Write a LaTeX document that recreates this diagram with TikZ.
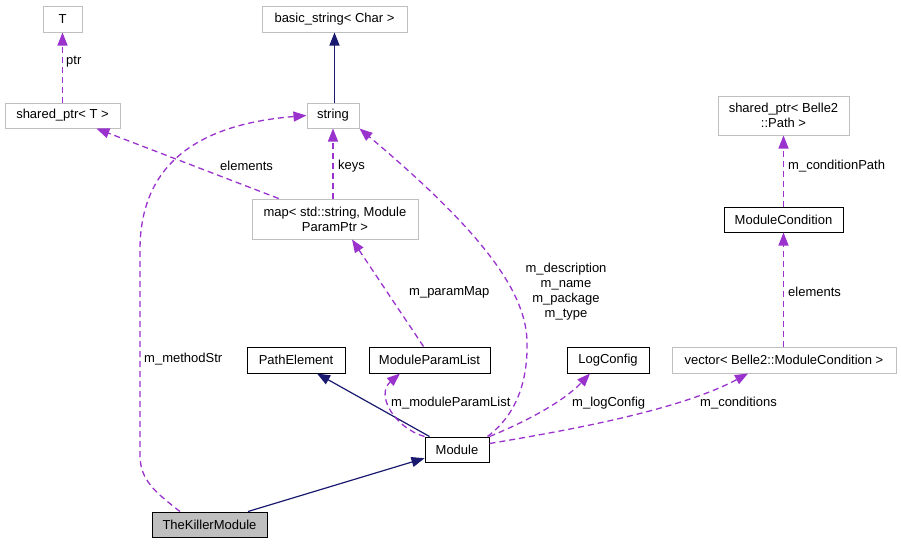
\documentclass[tikz,border=0pt]{standalone}
\usepackage{fontspec}
\setmainfont{Liberation Sans}
\usetikzlibrary{arrows.meta,positioning}
\definecolor{edgepurple}{HTML}{9A32CD}
\definecolor{edgeblue}{HTML}{191970}
\definecolor{boxgray}{HTML}{BFBFBF}
\tikzset{
  cls/.style={draw=black,line width=1pt,inner sep=0pt,minimum height=25pt,
    font=\fontsize{13}{15}\selectfont},
  ext/.style={cls,draw=boxgray},
  self/.style={cls,fill=boxgray},
  lbl/.style={inner sep=0pt,anchor=west,font=\fontsize{13}{15}\selectfont},
  inherit/.style={draw=edgeblue,line width=1.2pt,-{Triangle[length=13pt,width=10pt]}},
  usage/.style={draw=edgepurple,line width=1.3pt,dash pattern=on 6pt off 4pt,
    -{Triangle[length=13pt,width=10pt]}},
}
\begin{document}
\begin{tikzpicture}[x=1pt,y=-1pt]
            \useasboundingbox (0,0) rectangle (901,544);
            % Classes
            \node[ext,minimum width=39pt,minimum height=26pt] (T) at (62.5,19) {T};
            \node[ext,minimum width=145pt,minimum height=26pt] (basic) at (334.5,19) {basic\_string< Char >};
            \node[ext,minimum width=115pt] (sptrT) at (62.5,115.5) {shared\_ptr< T >};
            \node[ext,minimum width=52pt] (string) at (333,115.5) {string};
            \node[ext,align=center,minimum width=166pt,minimum height=40pt] (map) at (335,219) {map< std::string, Module\\ParamPtr >};
            \node[ext,align=center,minimum width=131pt,minimum height=39pt] (sptrB) at (783.5,115.5) {shared\_ptr< Belle2\\::Path >};
            \node[cls,minimum width=119pt] (cond) at (783.5,219.5) {ModuleCondition};
            \node[cls,minimum width=98pt,minimum height=26pt] (path) at (296,360) {PathElement};
            \node[cls,minimum width=121pt,minimum height=26pt] (plist) at (429.5,360) {ModuleParamList};
            \node[cls,minimum width=82pt,minimum height=26pt] (log) at (608,360) {LogConfig};
            \node[ext,minimum width=224pt,minimum height=26pt] (vec) at (784,360) {vector< Belle2::ModuleCondition >};
            \node[cls,minimum width=64pt] (module) at (457,449.5) {Module};
            \node[self,minimum width=115pt] (killer) at (209.5,524.5) {TheKillerModule};
            % Inheritance
            \draw[inherit] (string.north -| basic.south) -- (basic.south);
            \draw[inherit] ([xshift=5pt]module.north west) -- ([xshift=21pt]path.south);
            \draw[inherit] ([xshift=38.5pt]killer.north) -- (module.195);
            % Members
            \draw[usage] (sptrT.north) -- (T.south);
            \node[lbl] (lptr) at (66,62) {ptr};
            \draw[usage] (map.160) -- (sptrT.-21);
            \node[lbl] (lelem) at (220,166) {elements};
            \draw[usage] (map.north -| string.south) -- (string.south);
            \node[lbl] (lkeys) at (338,166) {keys};
            \draw[usage] ([xshift=-29.5pt]killer.north) .. controls (155,492) and (140,480) .. (140,455)
                -- (140,250) .. controls (140,170) and (190,125) .. (string.west);
            \node[lbl] (lmeth) at (144,359) {m\_methodStr};
            \draw[usage] ([xshift=-6pt]plist.north) -- ([xshift=17pt]map.south);
            \node[lbl] (lpmap) at (409,292) {m\_paramMap};
            \draw[usage] ([xshift=-2pt]module.north east) .. controls (520,412) and (528,375) .. (527,340)
                .. controls (525,290) and (480,230) .. (string.south east);
            \node[lbl,anchor=center,align=center] (ldesc) at (566,292) {m\_description\\m\_name\\m\_package\\m\_type};
            \draw[usage] (module.north west) .. controls (395,428) and (375,395) .. ([xshift=-29.5pt]plist.south);
            \node[lbl] (lplist) at (391,403) {m\_moduleParamList};
            \draw[usage] (module.north east) .. controls (530,420) and (565,400) .. ([xshift=-18pt]log.south);
            \node[lbl] (llog) at (572,403) {m\_logConfig};
            \draw[usage] ([yshift=6pt]module.east) .. controls (570,430) and (680,410) .. ([xshift=-36pt]vec.south);
            \node[lbl] (lcond) at (700,403) {m\_conditions};
            \draw[usage] (vec.north -| cond.south) -- (cond.south);
            \node[lbl] (lelem2) at (788,292) {elements};
            \draw[usage] (cond.north) -- (sptrB.south);
            \node[lbl] (lcpath) at (788,166) {m\_conditionPath};
\end{tikzpicture}
\end{document}
